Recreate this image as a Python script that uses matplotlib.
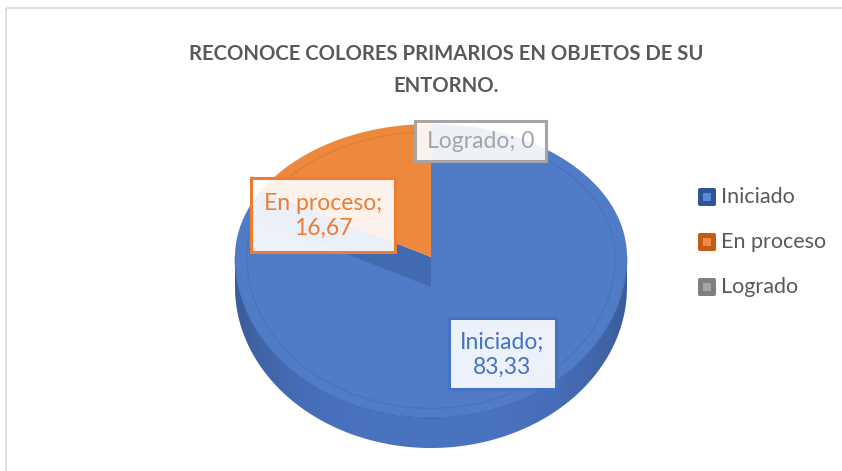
import numpy as np
import matplotlib.pyplot as plt
from matplotlib.patches import Polygon, Rectangle, FancyBboxPatch

# ---- datos ----
categories = ["Iniciado", "En proceso", "Logrado"]
values = [83.33, 16.67, 0]
value_labels = ["83,33", "16,67", "0"]
title = "RECONOCE COLORES PRIMARIOS EN OBJETOS DE SU\nENTORNO."

top_colors = ["#4F7BC7", "#EE883C", "#A5A5A5"]
text_colors = ["#4472C4", "#ED7D31", "#A5A5A5"]
leg_dark = ["#2F5597", "#C55A11", "#7F7F7F"]
leg_light = ["#5B8BD6", "#F08A4B", "#A5A5A5"]

plt.rcParams["font.family"] = ["Lato", "DejaVu Sans"]

W, H = 842, 471
fig = plt.figure(figsize=(W / 100, H / 100), dpi=100)
ax = fig.add_axes([0, 0, 1, 1])
ax.set_xlim(0, W)
ax.set_ylim(H, 0)
ax.axis("off")

# marco del gráfico
ax.add_patch(Rectangle((6, 8), 850, 480, fill=False, ec="#D9D9D9", lw=1.2))

# ---- geometría del pastel 3D ----
CX, CY = 431, 257
RX, RY_TOP, RY_BOT = 196, 133, 161
DEPTH = 30


def rim(theta, k=1.0):
    """ángulo en grados, sentido horario desde las 12"""
    t = np.radians(theta)
    ry = np.where(np.cos(t) > 0, RY_TOP, RY_BOT)
    return CX + k * RX * np.sin(t), CY - k * ry * np.cos(t)


# pared lateral con degradado
th = np.linspace(90, 270, 200)
xs, ys = rim(th)
side = np.column_stack([np.r_[xs, xs[::-1]], np.r_[ys, ys[::-1] + DEPTH]])
side_poly = Polygon(side, closed=True, fc="none", ec="none")
ax.add_patch(side_poly)
gx = np.linspace(-1, 1, 300)
shade = 1 - 0.2 * np.abs(gx) ** 3
base = np.array([0x4A, 0x73, 0xC0]) / 255
grad = (base[None, :] * shade[:, None])[None, :, :]
im = ax.imshow(grad, extent=(CX - RX, CX + RX, CY + RY_BOT + DEPTH, CY), aspect="auto", zorder=1)
im.set_clip_path(side_poly)

# caras superiores
angles = np.r_[0, np.cumsum(values) * 3.6]
for i, v in enumerate(values):
    if v <= 0:
        continue
    a0, a1 = angles[i], angles[i + 1]
    t = np.linspace(a0, a1, 200)
    px, py = rim(t)
    pts = np.column_stack([np.r_[CX, px], np.r_[CY, py]])
    ax.add_patch(Polygon(pts, closed=True, fc=top_colors[i], ec="none", zorder=2 + i * 2))
    # bisel interior
    ix, iy = rim(t, 0.94)
    ax.plot(ix, iy, color="black", alpha=0.08, lw=0.8, zorder=2 + i * 2)
    if i == 0:
        # cara radial sombreada bajo el sector siguiente
        ex, ey = rim(a1)
        quad = [(CX, CY), (CX, CY + DEPTH), (ex, ey + DEPTH), (ex, ey)]
        ax.add_patch(Polygon(quad, closed=True, fc="#1f3a70", alpha=0.25, ec="none", zorder=3))

# borde entre cara superior y pared
bx, by = rim(np.linspace(90, 270, 200))
ax.plot(bx, by, color="#2f4f8f", alpha=0.5, lw=0.8, zorder=6)

# ---- etiquetas de datos ----
boxes = [(449, 318, 107, 71), (251, 178, 144, 74), (415, 121, 131, 40)]
for i, (bx0, by0, bw, bh) in enumerate(boxes):
    ax.add_patch(Rectangle((bx0, by0), bw, bh, fc=(1, 1, 1, 0.9), ec=text_colors[i], lw=2.2, zorder=10))
    if values[i] > 0:
        txt = f"{categories[i]};\n{value_labels[i]}"
    else:
        txt = f"{categories[i]}; {value_labels[i]}"
    ax.text(bx0 + bw / 2, by0 + bh / 2 + 1, txt, ha="center", va="center", fontsize=16.5,
            color=text_colors[i], linespacing=1.25, zorder=11)

# ---- título ----
ax.text(446, 70, title, ha="center", va="center", fontsize=14.6, fontweight="bold",
        color="#595959", linespacing=1.8)

# ---- leyenda ----
for i, name in enumerate(categories):
    yc = 197 + i * 45
    ax.add_patch(FancyBboxPatch((698, yc - 9), 18, 18, boxstyle="round,pad=0,rounding_size=2",
                                fc=leg_dark[i], ec="none"))
    ax.add_patch(Rectangle((703, yc - 4), 8, 8, fc=leg_light[i], ec="none"))
    ax.text(721, yc, name, ha="left", va="center", fontsize=15.5, color="#595959")

fig.savefig("out.png", dpi=100)
